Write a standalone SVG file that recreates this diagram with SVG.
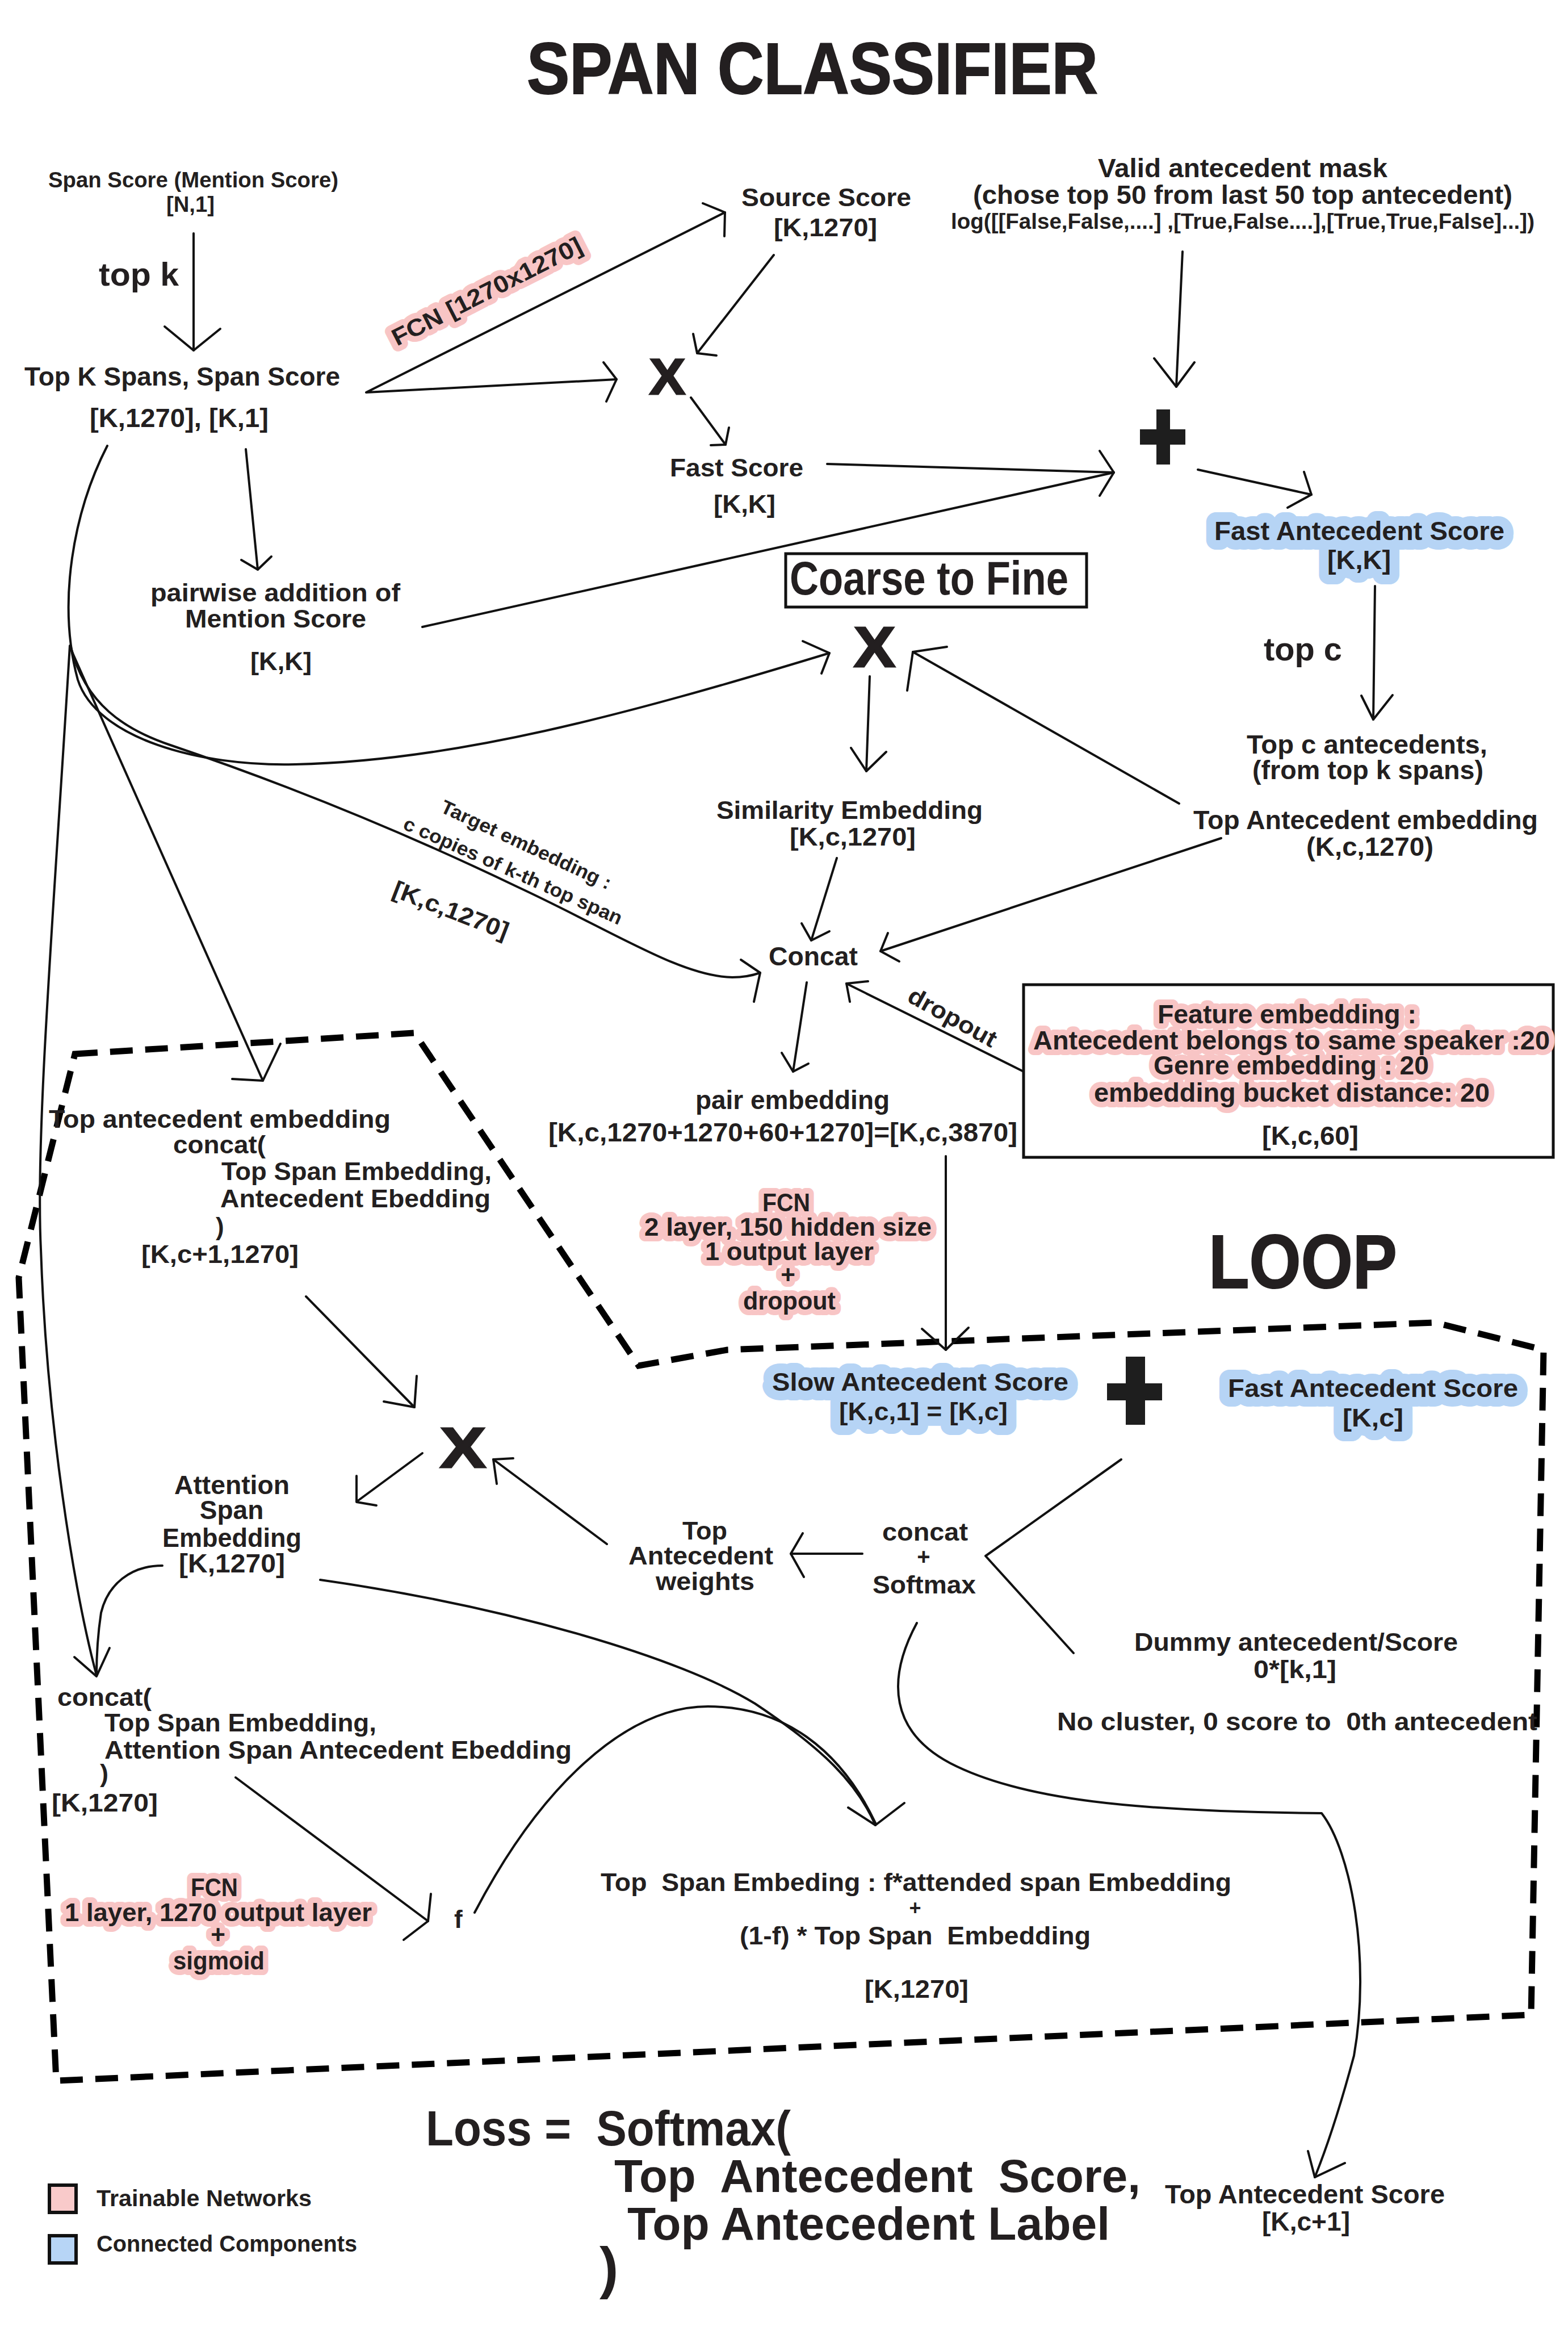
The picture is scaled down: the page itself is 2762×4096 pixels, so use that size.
<svg xmlns="http://www.w3.org/2000/svg" width="2762" height="4096" viewBox="0 0 2762 4096">
<style>
.f{font-family:"Liberation Sans",Arial,Helvetica,sans-serif;font-weight:bold;white-space:pre}
.t{font-family:"Liberation Sans",Arial,Helvetica,sans-serif;font-weight:bold;fill:#231f20;white-space:pre}
.ink{fill:#231f20;stroke:none}
.gp{fill:#f8c5c5;stroke:#f8c5c5;stroke-width:20;stroke-linejoin:round}
.gb{fill:#b6d4f5;stroke:#b6d4f5;stroke-width:34;stroke-linejoin:round}
.ln{fill:none;stroke:#111;stroke-width:4;stroke-linecap:round;stroke-linejoin:round}
.dash{fill:none;stroke:#000;stroke-width:11;stroke-dasharray:40 22}
.box{fill:none;stroke:#111;stroke-width:5}
.op{fill:#1e1e1e}
</style>
<defs>
<g id="d-fcn1" class="f" transform="translate(864,526) rotate(-27)"><text x="0" y="0" text-anchor="middle" font-size="42" textLength="370" lengthAdjust="spacingAndGlyphs">FCN [1270x1270]</text></g>
<g id="d-fas1" class="f" font-size="46">
<text x="2139" y="951" textLength="511" lengthAdjust="spacingAndGlyphs">Fast Antecedent Score</text>
<text x="2338" y="1002" textLength="112" lengthAdjust="spacingAndGlyphs">[K,K]</text>
</g>
<g id="d-feat" class="f" font-size="46">
<text x="2039" y="1802" textLength="456" lengthAdjust="spacingAndGlyphs">Feature embedding :</text>
<text x="1820" y="1848" textLength="910" lengthAdjust="spacingAndGlyphs">Antecedent belongs to same speaker :20</text>
<text x="2032" y="1892" textLength="485" lengthAdjust="spacingAndGlyphs">Genre embedding : 20</text>
<text x="1927" y="1940" textLength="697" lengthAdjust="spacingAndGlyphs">embedding bucket distance: 20</text>
</g>
<g id="d-fcn2" class="f" font-size="44">
<text x="1343" y="2133" textLength="84" lengthAdjust="spacingAndGlyphs">FCN</text>
<text x="1135" y="2176" textLength="506" lengthAdjust="spacingAndGlyphs">2 layer,  150 hidden size</text>
<text x="1242" y="2219" textLength="297" lengthAdjust="spacingAndGlyphs">1  output layer</text>
<text x="1388" y="2260" text-anchor="middle">+</text>
<text x="1309" y="2306" textLength="163" lengthAdjust="spacingAndGlyphs">dropout</text>
</g>
<g id="d-slow" class="f" font-size="44">
<text x="1360" y="2449" textLength="522" lengthAdjust="spacingAndGlyphs">Slow Antecedent Score</text>
<text x="1478" y="2501" textLength="297" lengthAdjust="spacingAndGlyphs">[K,c,1] = [K,c]</text>
</g>
<g id="d-fas2" class="f" font-size="44">
<text x="2163" y="2460" textLength="511" lengthAdjust="spacingAndGlyphs">Fast Antecedent Score</text>
<text x="2365" y="2512" textLength="107" lengthAdjust="spacingAndGlyphs">[K,c]</text>
</g>
<g id="d-fcn3" class="f" font-size="44">
<text x="336" y="3339" textLength="83" lengthAdjust="spacingAndGlyphs">FCN</text>
<text x="114" y="3383" textLength="541" lengthAdjust="spacingAndGlyphs">1 layer, 1270  output layer</text>
<text x="384" y="3422" text-anchor="middle">+</text>
<text x="305" y="3468" textLength="161" lengthAdjust="spacingAndGlyphs">sigmoid</text>
</g>
</defs>
<rect width="2762" height="4096" fill="#ffffff"/>

<g id="title"><text class="t" x="928" y="165" font-size="128" textLength="1006" lengthAdjust="spacingAndGlyphs" stroke="#231f20" stroke-width="2">SPAN CLASSIFIER</text></g>

<g id="loop-region"><path class="dash" d="M132,1856 L730,1819 L1125,2405 L1281,2377 L2528,2329 L2719,2377 L2697,3548 L99,3664 L33,2250 Z"/></g>

<g id="connectors">
<path class="ln" d="M341,411 L341,617"/><polyline class="ln" points="290,575 341,617 388,579"/>
<path class="ln" d="M1277,374 L645,691 L1086,668"/>
<polyline class="ln" points="1238,358 1277,374 1276,416"/>
<polyline class="ln" points="1063,638 1086,668 1068,707"/>
<path class="ln" d="M1363,449 L1228,622"/><polyline class="ln" points="1221,588 1228,622 1262,626"/>
<path class="ln" d="M1217,700 L1278,783"/><polyline class="ln" points="1284,753 1278,783 1252,784"/>
<path class="ln" d="M1457,817 L1962,832"/>
<path class="ln" d="M744,1104 L1962,832"/>
<polyline class="ln" points="1937,794 1962,832 1937,873"/>
<path class="ln" d="M2083,443 L2072,681"/><polyline class="ln" points="2033,631 2072,681 2104,638"/>
<path class="ln" d="M2110,827 L2310,871"/><polyline class="ln" points="2297,831 2310,871 2268,894"/>
<path class="ln" d="M2422,1032 L2419,1267"/><polyline class="ln" points="2398,1225 2419,1267 2453,1224"/>
<path class="ln" d="M433,791 L454,1003"/><polyline class="ln" points="425,986 454,1003 478,980"/>
<path class="ln" d="M189,785 C130,900 100,1060 137,1197 C170,1300 350,1350 520,1346 C800,1340 1100,1260 1461,1150"/>
<polyline class="ln" points="1414,1129 1461,1150 1447,1186"/>
<path class="ln" d="M125,1140 C150,1240 220,1285 300,1312 C500,1380 700,1460 912,1562 C1080,1640 1200,1720 1290,1721 C1310,1721 1325,1718 1339,1713"/>
<polyline class="ln" points="1305,1690 1339,1713 1328,1764"/>
<path class="ln" d="M123,1137 C95,1600 62,2000 72,2200 C82,2500 130,2800 170,2950"/>
<path class="ln" d="M286,2757 C230,2757 190,2790 178,2840 C172,2880 170,2920 170,2950"/>
<polyline class="ln" points="131,2918 170,2952 193,2902"/>
<path class="ln" d="M123,1139 L463,1903"/><polyline class="ln" points="409,1900 463,1903 494,1838"/>
<path class="ln" d="M1532,1191 L1526,1358"/><polyline class="ln" points="1499,1317 1526,1358 1561,1324"/>
<path class="ln" d="M2077,1415 L1608,1148"/><polyline class="ln" points="1668,1139 1608,1148 1598,1216"/>
<path class="ln" d="M1474,1511 L1429,1656"/><polyline class="ln" points="1412,1626 1429,1656 1461,1640"/>
<path class="ln" d="M2151,1476 L1551,1675"/><polyline class="ln" points="1564,1643 1551,1675 1584,1693"/>
<path class="ln" d="M1803,1887 L1491,1732"/><polyline class="ln" points="1529,1728 1491,1732 1497,1764"/>
<path class="ln" d="M1421,1730 L1397,1887"/><polyline class="ln" points="1377,1854 1397,1887 1424,1873"/>
<path class="ln" d="M1666,2036 L1666,2377"/><polyline class="ln" points="1624,2340 1666,2377 1706,2338"/>
<polyline class="ln" points="1975,2570 1736,2740 1891,2911"/>
<path class="ln" d="M1519,2736 L1393,2736"/><polyline class="ln" points="1414,2700 1393,2736 1416,2777"/>
<path class="ln" d="M1069,2719 L869,2570"/><polyline class="ln" points="904,2568 869,2570 875,2613"/>
<path class="ln" d="M539,2283 L730,2478"/><polyline class="ln" points="734,2423 730,2478 676,2468"/>
<path class="ln" d="M744,2559 L630,2643"/><polyline class="ln" points="628,2599 628,2645 663,2651"/>
<path class="ln" d="M564,2782 C900,2830 1200,2920 1330,3000 C1450,3080 1510,3140 1542,3214"/>
<path class="ln" d="M836,3368 C950,3150 1100,3005 1247,3005 C1380,3005 1480,3080 1542,3210"/>
<polyline class="ln" points="1494,3183 1542,3214 1593,3175"/>
<path class="ln" d="M415,3130 L754,3383"/><polyline class="ln" points="759,3335 754,3383 711,3416"/>
<path class="ln" d="M1615,2858 C1560,2960 1570,3050 1674,3105 C1800,3170 2000,3190 2328,3193 C2380,3260 2415,3450 2385,3620 Q2350,3750 2316,3834"/>
<polyline class="ln" points="2304,3788 2316,3834 2369,3809"/>
</g>

<g id="span-score"><text class="t" x="85" y="330" font-size="38" textLength="511" lengthAdjust="spacingAndGlyphs">Span Score (Mention Score)</text>
<text class="t" x="293" y="373" font-size="38" textLength="85" lengthAdjust="spacingAndGlyphs">[N,1]</text></g>
<g id="label-topk"><text class="t" x="174" y="503" font-size="58" textLength="141" lengthAdjust="spacingAndGlyphs">top k</text></g>
<g id="top-k-spans"><text class="t" x="43" y="679" font-size="46" textLength="556" lengthAdjust="spacingAndGlyphs">Top K Spans, Span Score</text>
<text class="t" x="158" y="752" font-size="46" textLength="315" lengthAdjust="spacingAndGlyphs">[K,1270], [K,1]</text></g>
<g id="fcn-top"><use href="#d-fcn1" class="gp"/><use href="#d-fcn1" class="ink"/></g>
<g id="source-score"><text class="t" x="1306" y="363" font-size="44" textLength="299" lengthAdjust="spacingAndGlyphs">Source Score</text>
<text class="t" x="1363" y="416" font-size="44" textLength="182" lengthAdjust="spacingAndGlyphs">[K,1270]</text></g>
<g id="mult-1"><text class="t" x="1144" y="694" font-size="89" textLength="63" lengthAdjust="spacingAndGlyphs" stroke="#231f20" stroke-width="3">X</text></g>
<g id="fast-score"><text class="t" x="1180" y="839" font-size="44" textLength="235" lengthAdjust="spacingAndGlyphs">Fast Score</text>
<text class="t" x="1257" y="903" font-size="44" textLength="109" lengthAdjust="spacingAndGlyphs">[K,K]</text></g>
<g id="pairwise"><text class="t" x="265" y="1059" font-size="44" textLength="440" lengthAdjust="spacingAndGlyphs">pairwise addition of</text>
<text class="t" x="326" y="1105" font-size="44" textLength="319" lengthAdjust="spacingAndGlyphs">Mention Score</text>
<text class="t" x="441" y="1180" font-size="44" textLength="108" lengthAdjust="spacingAndGlyphs">[K,K]</text></g>
<g id="mask"><text class="t" x="1934" y="312" font-size="46" textLength="510" lengthAdjust="spacingAndGlyphs">Valid antecedent mask</text>
<text class="t" x="1714" y="359" font-size="46" textLength="950" lengthAdjust="spacingAndGlyphs">(chose top 50 from last 50 top antecedent)</text>
<text class="t" x="1675" y="403" font-size="38" textLength="1028" lengthAdjust="spacingAndGlyphs">log([[False,False,....] ,[True,False....],[True,True,False]...])</text></g>
<g id="plus-1"><rect class="op" x="2037" y="721" width="24" height="97"/><rect class="op" x="2008" y="756" width="80" height="27"/></g>
<g id="fast-antecedent-kk"><use href="#d-fas1" class="gb"/><use href="#d-fas1" class="ink"/></g>
<g id="label-topc"><text class="t" x="2226" y="1163" font-size="58" textLength="138" lengthAdjust="spacingAndGlyphs">top c</text></g>
<g id="top-c-antecedents"><text class="t" x="2196" y="1327" font-size="46" textLength="424" lengthAdjust="spacingAndGlyphs">Top c antecedents,</text>
<text class="t" x="2206" y="1372" font-size="46" textLength="407" lengthAdjust="spacingAndGlyphs">(from top k spans)</text></g>
<g id="coarse-to-fine"><rect class="box" x="1384" y="975" width="530" height="94"/>
<text class="t" x="1391" y="1047" font-size="84" textLength="491" lengthAdjust="spacingAndGlyphs">Coarse to Fine</text></g>
<g id="mult-2"><text class="t" x="1504" y="1174" font-size="100" textLength="73" lengthAdjust="spacingAndGlyphs" stroke="#231f20" stroke-width="3">X</text></g>
<g id="similarity"><text class="t" x="1262" y="1442" font-size="44" textLength="469" lengthAdjust="spacingAndGlyphs">Similarity Embedding</text>
<text class="t" x="1391" y="1489" font-size="44" textLength="222" lengthAdjust="spacingAndGlyphs">[K,c,1270]</text></g>
<g id="top-antecedent-embedding"><text class="t" x="2102" y="1460" font-size="46" textLength="607" lengthAdjust="spacingAndGlyphs">Top Antecedent embedding</text>
<text class="t" x="2301" y="1507" font-size="46" textLength="224" lengthAdjust="spacingAndGlyphs">(K,c,1270)</text></g>
<g id="target-embedding-label">
<text class="t" transform="translate(922,1498) rotate(25)" text-anchor="middle" font-size="34" textLength="327" lengthAdjust="spacingAndGlyphs">Target embedding :</text>
<text class="t" transform="translate(899,1544) rotate(24)" text-anchor="middle" font-size="34" textLength="418" lengthAdjust="spacingAndGlyphs">c copies of k-th top span</text>
<text class="t" transform="translate(789,1616) rotate(21)" text-anchor="middle" font-size="42" textLength="215" lengthAdjust="spacingAndGlyphs">[K,c,1270]</text></g>
<g id="concat"><text class="t" x="1354" y="1700" font-size="46" textLength="157" lengthAdjust="spacingAndGlyphs">Concat</text></g>
<g id="label-dropout"><text class="t" transform="translate(1671,1804) rotate(29)" text-anchor="middle" font-size="42" textLength="172" lengthAdjust="spacingAndGlyphs">dropout</text></g>
<g id="feature-embedding"><rect class="box" x="1803" y="1734" width="933" height="304"/>
<use href="#d-feat" class="gp"/><use href="#d-feat" class="ink"/>
<text class="t" x="2223" y="2016" font-size="46" textLength="170" lengthAdjust="spacingAndGlyphs">[K,c,60]</text></g>
<g id="pair-embedding"><text class="t" x="1225" y="1953" font-size="46" textLength="342" lengthAdjust="spacingAndGlyphs">pair embedding</text>
<text class="t" x="966" y="2010" font-size="46" textLength="826" lengthAdjust="spacingAndGlyphs">[K,c,1270+1270+60+1270]=[K,c,3870]</text></g>
<g id="fcn-slow"><use href="#d-fcn2" class="gp"/><use href="#d-fcn2" class="ink"/></g>
<g id="loop-label"><text class="t" x="2129" y="2268" font-size="134" textLength="332" lengthAdjust="spacingAndGlyphs" stroke="#231f20" stroke-width="2">LOOP</text></g>
<g id="slow-antecedent"><use href="#d-slow" class="gb"/><use href="#d-slow" class="ink"/></g>
<g id="plus-2"><rect class="op" x="1983" y="2389" width="34" height="120"/><rect class="op" x="1950" y="2436" width="97" height="30"/></g>
<g id="fast-antecedent-kc"><use href="#d-fas2" class="gb"/><use href="#d-fas2" class="ink"/></g>
<g id="concat-softmax"><text class="t" x="1554" y="2713" font-size="44" textLength="151" lengthAdjust="spacingAndGlyphs">concat</text>
<text class="t" x="1627" y="2755" font-size="40" text-anchor="middle">+</text>
<text class="t" x="1537" y="2806" font-size="44" textLength="182" lengthAdjust="spacingAndGlyphs">Softmax</text></g>
<g id="top-antecedent-weights"><text class="t" x="1202" y="2711" font-size="44" textLength="79" lengthAdjust="spacingAndGlyphs">Top</text>
<text class="t" x="1107" y="2755" font-size="44" textLength="255" lengthAdjust="spacingAndGlyphs">Antecedent</text>
<text class="t" x="1155" y="2800" font-size="44" textLength="174" lengthAdjust="spacingAndGlyphs">weights</text></g>
<g id="dummy"><text class="t" x="1998" y="2907" font-size="44" textLength="570" lengthAdjust="spacingAndGlyphs">Dummy antecedent/Score</text>
<text class="t" x="2208" y="2955" font-size="44" textLength="146" lengthAdjust="spacingAndGlyphs">0*[k,1]</text>
<text class="t" x="1862" y="3047" font-size="44" textLength="846" lengthAdjust="spacingAndGlyphs">No cluster, 0 score to  0th antecedent</text></g>
<g id="mult-3"><text class="t" x="775" y="2584" font-size="100" textLength="81" lengthAdjust="spacingAndGlyphs" stroke="#231f20" stroke-width="3">X</text></g>
<g id="attention-span"><text class="t" x="307" y="2631" font-size="46" textLength="203" lengthAdjust="spacingAndGlyphs">Attention</text>
<text class="t" x="408" y="2675" font-size="46" text-anchor="middle">Span</text>
<text class="t" x="286" y="2724" font-size="46" textLength="245" lengthAdjust="spacingAndGlyphs">Embedding</text>
<text class="t" x="315" y="2769" font-size="46" textLength="187" lengthAdjust="spacingAndGlyphs">[K,1270]</text></g>
<g id="top-antecedent-concat"><text class="t" x="86" y="1986" font-size="44" textLength="602" lengthAdjust="spacingAndGlyphs">Top antecedent embedding</text>
<text class="t" x="305" y="2031" font-size="44" textLength="163" lengthAdjust="spacingAndGlyphs">concat(</text>
<text class="t" x="390" y="2078" font-size="44" textLength="476" lengthAdjust="spacingAndGlyphs">Top Span Embedding,</text>
<text class="t" x="388" y="2126" font-size="44" textLength="476" lengthAdjust="spacingAndGlyphs">Antecedent Ebedding</text>
<text class="t" x="380" y="2175" font-size="44">)</text>
<text class="t" x="249" y="2224" font-size="44" textLength="277" lengthAdjust="spacingAndGlyphs">[K,c+1,1270]</text></g>
<g id="concat-attention"><text class="t" x="101" y="3004" font-size="45" textLength="166" lengthAdjust="spacingAndGlyphs">concat(</text>
<text class="t" x="184" y="3049" font-size="45" textLength="479" lengthAdjust="spacingAndGlyphs">Top Span Embedding,</text>
<text class="t" x="184" y="3097" font-size="45" textLength="823" lengthAdjust="spacingAndGlyphs">Attention Span Antecedent Ebedding</text>
<text class="t" x="176" y="3138" font-size="45">)</text>
<text class="t" x="91" y="3190" font-size="45" textLength="187" lengthAdjust="spacingAndGlyphs">[K,1270]</text></g>
<g id="fcn-gate"><use href="#d-fcn3" class="gp"/><use href="#d-fcn3" class="ink"/></g>
<g id="gate-f"><text class="t" x="800" y="3395" font-size="44">f</text></g>
<g id="updated-span"><text class="t" x="1058" y="3330" font-size="44" textLength="1111" lengthAdjust="spacingAndGlyphs">Top  Span Embeding : f*attended span Embedding</text>
<text class="t" x="1612" y="3372" font-size="36" text-anchor="middle">+</text>
<text class="t" x="1303" y="3424" font-size="44" textLength="618" lengthAdjust="spacingAndGlyphs">(1-f) * Top Span  Embedding</text>
<text class="t" x="1523" y="3518" font-size="44" textLength="183" lengthAdjust="spacingAndGlyphs">[K,1270]</text></g>
<g id="top-antecedent-score"><text class="t" x="2052" y="3880" font-size="46" textLength="493" lengthAdjust="spacingAndGlyphs">Top Antecedent Score</text>
<text class="t" x="2223" y="3928" font-size="46" textLength="155" lengthAdjust="spacingAndGlyphs">[K,c+1]</text></g>
<g id="loss"><text class="t" x="750" y="3778" font-size="88" textLength="643" lengthAdjust="spacingAndGlyphs">Loss =  Softmax(</text>
<text class="t" x="1082" y="3860" font-size="82" textLength="927" lengthAdjust="spacingAndGlyphs">Top  Antecedent  Score,</text>
<text class="t" x="1105" y="3944" font-size="82" textLength="850" lengthAdjust="spacingAndGlyphs">Top Antecedent Label</text>
<text class="t" x="1056" y="4028" font-size="100" font-weight="normal">)</text></g>
<g id="legend"><rect x="87" y="3848" width="47" height="48" fill="#f9caca" stroke="#111" stroke-width="6"/>
<text class="t" x="170" y="3885" font-size="40" textLength="379" lengthAdjust="spacingAndGlyphs">Trainable Networks</text>
<rect x="87" y="3937" width="47" height="48" fill="#b7d5f6" stroke="#111" stroke-width="6"/>
<text class="t" x="170" y="3965" font-size="40" textLength="459" lengthAdjust="spacingAndGlyphs">Connected Components</text></g>
</svg>
